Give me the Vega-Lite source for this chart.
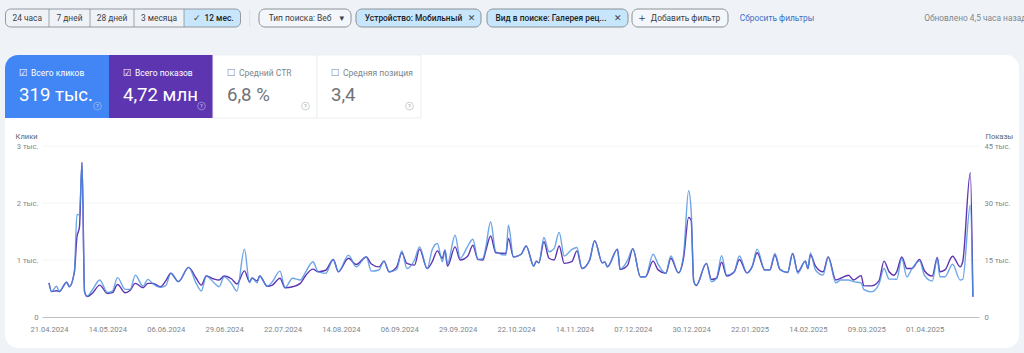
{
"$schema":"https://vega.github.io/schema/vega-lite/v6.json",
"width":937,"height":171,"autosize":"none",
"padding":{"left":42,"top":146,"right":45,"bottom":36},
"background":"#eff3f8",
"config":{"view":{"stroke":null},"font":"Roboto"},
"datasets":{
"tiles":[
{"tile":0,"end":1,"label":"Всего кликов","value":"319 тыс."},
{"tile":1,"end":2,"label":"Всего показов","value":"4,72 млн"},
{"tile":2,"end":3,"label":"Средний CTR","value":"6,8 %"},
{"tile":3,"end":4,"label":"Средняя позиция","value":"3,4"}],
"chips":[
{"label":"24 часа","from":0,"to":1,"at":0.5,"group":"period","state":"plain"},
{"label":"7 дней","from":1,"to":2,"at":1.5,"group":"period","state":"plain"},
{"label":"28 дней","from":2,"to":3,"at":2.5,"group":"period","state":"plain"},
{"label":"3 месяца","from":3,"to":4,"at":3.5,"group":"period","state":"plain"},
{"label":"12 мес.","from":4,"to":5,"at":4.62,"group":"period","state":"active"},
{"label":"Тип поиска: Веб","from":6,"to":7,"at":6.446,"group":"chip","state":"plain"},
{"label":"Устройство: Мобильный","from":8,"to":9,"at":8.46,"group":"chip","state":"active"},
{"label":"Вид в поиске: Галерея рец...","from":10,"to":11,"at":10.454,"group":"chip","state":"active"},
{"label":"Добавить фильтр","from":12,"to":13,"at":12.557,"group":"chip","state":"plain"},
{"label":"Сбросить фильтры","from":14,"to":15,"at":14.5,"group":"link","state":"plain"},
{"label":"Обновлено 4,5 часа назад","from":16,"to":17,"at":16.47,"group":"note","state":"plain"},
{"label":"✓","from":4,"to":4,"at":4.225,"group":"icon","state":"plain"},
{"label":"▾","from":6,"to":6,"at":6.9,"group":"icon","state":"plain"},
{"label":"✕","from":8,"to":8,"at":8.925,"group":"icon","state":"plain"},
{"label":"✕","from":10,"to":10,"at":10.927,"group":"icon","state":"plain"},
{"label":"+","from":12,"to":12,"at":12.104,"group":"icon","state":"plain"}],
"gridlines":[{"clicks":1000},{"clicks":2000},{"clicks":3000}],
"daily":[
{"date":"2024-04-21","clicks":600,"impressions":9000},
{"date":"2024-04-22","clicks":445,"impressions":6700},
{"date":"2024-04-24","clicks":540,"impressions":6900},
{"date":"2024-04-25","clicks":445,"impressions":6700},
{"date":"2024-04-28","clicks":610,"impressions":9150},
{"date":"2024-04-29","clicks":530,"impressions":7950},
{"date":"2024-05-01","clicks":790,"impressions":11850},
{"date":"2024-05-02","clicks":1800,"impressions":21000},
{"date":"2024-05-03","clicks":1790,"impressions":23700},
{"date":"2024-05-04","clicks":2710,"impressions":40650},
{"date":"2024-05-05","clicks":445,"impressions":6700},
{"date":"2024-05-06","clicks":360,"impressions":5400},
{"date":"2024-05-08","clicks":470,"impressions":6200},
{"date":"2024-05-11","clicks":650,"impressions":8400},
{"date":"2024-05-14","clicks":430,"impressions":6200},
{"date":"2024-05-16","clicks":455,"impressions":6400},
{"date":"2024-05-18","clicks":690,"impressions":8550},
{"date":"2024-05-21","clicks":485,"impressions":6400},
{"date":"2024-05-23","clicks":485,"impressions":7050},
{"date":"2024-05-25","clicks":735,"impressions":8850},
{"date":"2024-05-28","clicks":540,"impressions":7700},
{"date":"2024-05-30","clicks":660,"impressions":8850},
{"date":"2024-06-01","clicks":580,"impressions":8850},
{"date":"2024-06-04","clicks":520,"impressions":7950},
{"date":"2024-06-06","clicks":550,"impressions":9500},
{"date":"2024-06-08","clicks":765,"impressions":11500},
{"date":"2024-06-11","clicks":620,"impressions":9300},
{"date":"2024-06-15","clicks":870,"impressions":13050},
{"date":"2024-06-18","clicks":590,"impressions":10200},
{"date":"2024-06-20","clicks":455,"impressions":8400},
{"date":"2024-06-22","clicks":720,"impressions":10800},
{"date":"2024-06-25","clicks":600,"impressions":10000},
{"date":"2024-06-27","clicks":530,"impressions":9750},
{"date":"2024-06-29","clicks":705,"impressions":10800},
{"date":"2024-07-02","clicks":580,"impressions":10000},
{"date":"2024-07-04","clicks":455,"impressions":8700},
{"date":"2024-07-07","clicks":1190,"impressions":12150},
{"date":"2024-07-09","clicks":600,"impressions":9300},
{"date":"2024-07-10","clicks":690,"impressions":10200},
{"date":"2024-07-12","clicks":600,"impressions":9500},
{"date":"2024-07-13","clicks":720,"impressions":10800},
{"date":"2024-07-16","clicks":540,"impressions":8100},
{"date":"2024-07-18","clicks":620,"impressions":8400},
{"date":"2024-07-21","clicks":805,"impressions":10200},
{"date":"2024-07-23","clicks":515,"impressions":7700},
{"date":"2024-07-26","clicks":680,"impressions":7950},
{"date":"2024-07-29","clicks":650,"impressions":8850},
{"date":"2024-07-31","clicks":780,"impressions":10800},
{"date":"2024-08-03","clicks":970,"impressions":12600},
{"date":"2024-08-05","clicks":795,"impressions":11900},
{"date":"2024-08-08","clicks":765,"impressions":12300},
{"date":"2024-08-11","clicks":1010,"impressions":15150},
{"date":"2024-08-13","clicks":795,"impressions":11900},
{"date":"2024-08-17","clicks":1085,"impressions":15450},
{"date":"2024-08-20","clicks":880,"impressions":13800},
{"date":"2024-08-24","clicks":1055,"impressions":15800},
{"date":"2024-08-26","clicks":805,"impressions":13950},
{"date":"2024-08-29","clicks":825,"impressions":13200},
{"date":"2024-08-31","clicks":980,"impressions":14700},
{"date":"2024-09-02","clicks":795,"impressions":11900},
{"date":"2024-09-05","clicks":835,"impressions":13200},
{"date":"2024-09-07","clicks":1160,"impressions":16900},
{"date":"2024-09-09","clicks":850,"impressions":14100},
{"date":"2024-09-12","clicks":1000,"impressions":13650},
{"date":"2024-09-14","clicks":1230,"impressions":17850},
{"date":"2024-09-17","clicks":850,"impressions":12750},
{"date":"2024-09-19","clicks":1185,"impressions":14550},
{"date":"2024-09-21","clicks":1290,"impressions":17400},
{"date":"2024-09-23","clicks":970,"impressions":15450},
{"date":"2024-09-24","clicks":1175,"impressions":17600},
{"date":"2024-09-25","clicks":940,"impressions":13400},
{"date":"2024-09-28","clicks":1435,"impressions":18450},
{"date":"2024-09-30","clicks":1030,"impressions":15000},
{"date":"2024-10-03","clicks":1245,"impressions":16050},
{"date":"2024-10-05","clicks":1365,"impressions":18900},
{"date":"2024-10-07","clicks":1010,"impressions":15150},
{"date":"2024-10-09","clicks":1030,"impressions":15000},
{"date":"2024-10-10","clicks":1200,"impressions":17200},
{"date":"2024-10-12","clicks":1670,"impressions":21300},
{"date":"2024-10-14","clicks":1145,"impressions":16900},
{"date":"2024-10-18","clicks":1085,"impressions":16700},
{"date":"2024-10-19","clicks":1610,"impressions":20700},
{"date":"2024-10-21","clicks":1055,"impressions":15800},
{"date":"2024-10-24","clicks":1100,"impressions":16500},
{"date":"2024-10-26","clicks":1245,"impressions":18700},
{"date":"2024-10-29","clicks":895,"impressions":13400},
{"date":"2024-10-30","clicks":980,"impressions":14700},
{"date":"2024-10-31","clicks":950,"impressions":14250},
{"date":"2024-11-02","clicks":1395,"impressions":19800},
{"date":"2024-11-04","clicks":1145,"impressions":15450},
{"date":"2024-11-06","clicks":1200,"impressions":15000},
{"date":"2024-11-08","clicks":1485,"impressions":18700},
{"date":"2024-11-10","clicks":1070,"impressions":14100},
{"date":"2024-11-13","clicks":1185,"impressions":14550},
{"date":"2024-11-15","clicks":1220,"impressions":17400},
{"date":"2024-11-17","clicks":850,"impressions":12750},
{"date":"2024-11-20","clicks":1000,"impressions":15000},
{"date":"2024-11-22","clicks":1340,"impressions":20100},
{"date":"2024-11-25","clicks":950,"impressions":14250},
{"date":"2024-11-26","clicks":965,"impressions":14500},
{"date":"2024-11-27","clicks":880,"impressions":13200},
{"date":"2024-12-01","clicks":1190,"impressions":17850},
{"date":"2024-12-02","clicks":835,"impressions":12500},
{"date":"2024-12-05","clicks":1000,"impressions":13650},
{"date":"2024-12-07","clicks":1200,"impressions":18000},
{"date":"2024-12-10","clicks":705,"impressions":10600},
{"date":"2024-12-12","clicks":705,"impressions":10600},
{"date":"2024-12-15","clicks":1100,"impressions":14700},
{"date":"2024-12-17","clicks":925,"impressions":12400},
{"date":"2024-12-20","clicks":765,"impressions":11500},
{"date":"2024-12-22","clicks":1070,"impressions":15450},
{"date":"2024-12-25","clicks":775,"impressions":11600},
{"date":"2024-12-27","clicks":1085,"impressions":15450},
{"date":"2024-12-29","clicks":2215,"impressions":26200},
{"date":"2024-12-30","clicks":1875,"impressions":25500},
{"date":"2024-12-31","clicks":635,"impressions":9500},
{"date":"2025-01-01","clicks":555,"impressions":8300},
{"date":"2025-01-05","clicks":940,"impressions":14100},
{"date":"2025-01-07","clicks":620,"impressions":9900},
{"date":"2025-01-09","clicks":680,"impressions":10200},
{"date":"2025-01-11","clicks":1075,"impressions":14400},
{"date":"2025-01-13","clicks":735,"impressions":10800},
{"date":"2025-01-16","clicks":795,"impressions":11900},
{"date":"2025-01-18","clicks":1070,"impressions":15150},
{"date":"2025-01-21","clicks":775,"impressions":11600},
{"date":"2025-01-23","clicks":880,"impressions":13200},
{"date":"2025-01-25","clicks":1190,"impressions":16900},
{"date":"2025-01-28","clicks":825,"impressions":12400},
{"date":"2025-01-30","clicks":825,"impressions":12400},
{"date":"2025-02-01","clicks":1115,"impressions":16300},
{"date":"2025-02-03","clicks":835,"impressions":12500},
{"date":"2025-02-06","clicks":780,"impressions":11700},
{"date":"2025-02-08","clicks":1115,"impressions":16700},
{"date":"2025-02-10","clicks":765,"impressions":11900},
{"date":"2025-02-13","clicks":980,"impressions":14700},
{"date":"2025-02-14","clicks":850,"impressions":12750},
{"date":"2025-02-15","clicks":1125,"impressions":16300},
{"date":"2025-02-17","clicks":825,"impressions":13400},
{"date":"2025-02-20","clicks":735,"impressions":11900},
{"date":"2025-02-22","clicks":1055,"impressions":15800},
{"date":"2025-02-25","clicks":600,"impressions":9750},
{"date":"2025-02-27","clicks":650,"impressions":10200},
{"date":"2025-03-02","clicks":650,"impressions":11000},
{"date":"2025-03-04","clicks":620,"impressions":9750},
{"date":"2025-03-07","clicks":600,"impressions":10900},
{"date":"2025-03-08","clicks":485,"impressions":8250},
{"date":"2025-03-11","clicks":440,"impressions":8200},
{"date":"2025-03-14","clicks":580,"impressions":9500},
{"date":"2025-03-16","clicks":850,"impressions":14700},
{"date":"2025-03-18","clicks":665,"impressions":11900},
{"date":"2025-03-20","clicks":665,"impressions":11000},
{"date":"2025-03-21","clicks":660,"impressions":11900},
{"date":"2025-03-23","clicks":1030,"impressions":15800},
{"date":"2025-03-25","clicks":705,"impressions":12750},
{"date":"2025-03-27","clicks":850,"impressions":12750},
{"date":"2025-03-30","clicks":985,"impressions":15150},
{"date":"2025-04-01","clicks":725,"impressions":12100},
{"date":"2025-04-04","clicks":630,"impressions":10800},
{"date":"2025-04-06","clicks":1030,"impressions":15700},
{"date":"2025-04-07","clicks":705,"impressions":11900},
{"date":"2025-04-09","clicks":705,"impressions":12400},
{"date":"2025-04-12","clicks":925,"impressions":16000},
{"date":"2025-04-15","clicks":650,"impressions":13200},
{"date":"2025-04-16","clicks":660,"impressions":14550},
{"date":"2025-04-19","clicks":1960,"impressions":38000},
{"date":"2025-04-20","clicks":355,"impressions":5300}]
},
"resolve":{"scale":{"x":"independent","y":"independent"}},
"layer":[
{"data":{"values":[{"panel":"card"}]},
 "mark":{"type":"rect","fill":"#ffffff","cornerRadius":13},
 "encoding":{
  "x":{"datum":0,"type":"quantitative","scale":{"domain":[0,1],"range":[-37,977],"nice":false,"zero":false},"axis":null},
  "x2":{"datum":1},
  "y":{"datum":0,"type":"quantitative","scale":{"domain":[0,1],"range":[-91,202],"nice":false,"zero":false},"axis":null},
  "y2":{"datum":1}}},
{"data":{"name":"tiles"},
 "encoding":{
  "x":{"field":"tile","type":"quantitative","scale":{"domain":[0,4],"range":[-37,379],"nice":false,"zero":false},"axis":null},
  "y":{"datum":0,"type":"quantitative","scale":{"domain":[0,1],"range":[-91,-28],"nice":false,"zero":false},"axis":null}},
 "layer":[
  {"transform":[{"filter":"datum.tile==0"}],"mark":{"type":"rect","fill":"#4285f4","cornerRadiusTopLeft":13},"encoding":{"x2":{"field":"end"},"y2":{"datum":1}}},
  {"transform":[{"filter":"datum.tile==1"}],"mark":{"type":"rect","fill":"#5e35b1"},"encoding":{"x2":{"field":"end"},"y2":{"datum":1}}},
  {"transform":[{"filter":"datum.tile>1"}],"mark":{"type":"rect","fill":"#ffffff","stroke":"#eceef1","strokeWidth":1},"encoding":{"x2":{"field":"end"},"y2":{"datum":1}}},
  {"mark":{"type":"text","align":"left","baseline":"middle","dx":26,"fontSize":8.5},
   "encoding":{"y":{"datum":0.285},"text":{"field":"label"},"color":{"condition":{"test":"datum.tile<2","value":"#ffffff"},"value":"#80868b"}}},
  {"mark":{"type":"text","align":"center","baseline":"middle","dx":18,"fontSize":9.5,"font":"DejaVu Sans"},
   "encoding":{"y":{"datum":0.285},"text":{"condition":{"test":"datum.tile<2","value":"☑"},"value":"☐"},"color":{"condition":{"test":"datum.tile<2","value":"#ffffff"},"value":"#80868b"}}},
  {"mark":{"type":"text","align":"left","baseline":"alphabetic","dx":14,"fontSize":18.6},
   "encoding":{"y":{"datum":0.73},"text":{"field":"value"},"color":{"condition":{"test":"datum.tile<2","value":"#ffffff"},"value":"#6f7377"}}},
  {"mark":{"type":"point","shape":"circle","size":60,"filled":false,"strokeWidth":0.7,"xOffset":92.5},
   "encoding":{"y":{"datum":0.81},"color":{"condition":{"test":"datum.tile<2","value":"#c9d6f2"},"value":"#9aa0a6"}}},
  {"mark":{"type":"text","align":"center","baseline":"middle","dx":92.5,"fontSize":6},
   "encoding":{"y":{"datum":0.81},"text":{"value":"?"},"color":{"condition":{"test":"datum.tile<2","value":"#c9d6f2"},"value":"#9aa0a6"}}}
 ]},
{"data":{"name":"chips"},
 "encoding":{
  "x":{"field":"from","type":"quantitative","scale":{"domain":[0,1,2,3,4,5,6,7,8,9,10,11,12,13,14,15,16,17],"range":[-36.5,7,48,92,142,198.5,217,309,314,439,445,586,590,686,698,772,882,991],"nice":false,"zero":false},"axis":null},
  "y":{"datum":0,"type":"quantitative","scale":{"domain":[0,1],"range":[-137,-119],"nice":false,"zero":false},"axis":null}},
 "layer":[
  {"transform":[{"filter":"datum.group=='period' && datum.state=='active'"}],
   "mark":{"type":"rect","fill":"#c7e6fb","cornerRadiusTopRight":5,"cornerRadiusBottomRight":5},
   "encoding":{"x2":{"field":"to"},"y2":{"datum":1}}},
  {"transform":[{"filter":"datum.group=='period' && datum.from==0"}],
   "mark":{"type":"rect","fill":"transparent","stroke":"#8a9096","strokeWidth":0.9,"cornerRadius":5},
   "encoding":{"x2":{"datum":5},"y2":{"datum":1}}},
  {"transform":[{"filter":"datum.group=='period' && datum.from>0"}],
   "mark":{"type":"rule","stroke":"#8a9096","strokeWidth":0.8},
   "encoding":{"y2":{"datum":1}}},
  {"transform":[{"filter":"datum.group=='period' && datum.from==0"}],
   "mark":{"type":"rule","stroke":"#dde1e6","strokeWidth":1},
   "encoding":{"x":{"datum":5.5},"y2":{"datum":1}}},
  {"transform":[{"filter":"datum.group=='chip'"}],
   "mark":{"type":"rect","stroke":"#80868b","strokeWidth":0.9,"cornerRadius":6},
   "encoding":{"x2":{"field":"to"},"y2":{"datum":1},"fill":{"condition":{"test":"datum.state=='active'","value":"#c7e6fb"},"value":"#f3f6fa"}}},
  {"transform":[{"filter":"datum.group!='icon' && datum.state=='plain'"}],
   "mark":{"type":"text","align":"center","baseline":"middle","fontSize":8.4},
   "encoding":{"x":{"field":"at"},"y":{"datum":0.5},"text":{"field":"label"},
    "color":{"condition":[{"test":"datum.group=='link'","value":"#3b6fc4"},{"test":"datum.group=='note'","value":"#80868b"}],"value":"#3c4043"}}},
  {"transform":[{"filter":"datum.group!='icon' && datum.state=='active'"}],
   "mark":{"type":"text","align":"center","baseline":"middle","fontSize":8.4,"fontWeight":500,"color":"#202124"},
   "encoding":{"x":{"field":"at"},"y":{"datum":0.5},"text":{"field":"label"}}},
  {"transform":[{"filter":"datum.group=='icon'"}],
   "mark":{"type":"text","align":"center","baseline":"middle","fontSize":9,"font":"DejaVu Sans","color":"#3c4043"},
   "encoding":{"x":{"field":"at"},"y":{"datum":0.5},"text":{"field":"label"}}}
 ]},
{"data":{"name":"gridlines"},
 "mark":{"type":"rule","stroke":"#f3f4f6","strokeWidth":1},
 "encoding":{"y":{"field":"clicks","type":"quantitative","scale":{"domain":[0,3000],"nice":false,"zero":true},"axis":null}}},
{"data":{"name":"daily"},
 "encoding":{
  "x":{"field":"date","type":"temporal",
   "scale":{"type":"utc","domain":["2024-04-18T05:45:00Z","2025-04-22T10:00:00Z"],"nice":false},
   "axis":{"values":["2024-04-21","2024-05-14","2024-06-06","2024-06-29","2024-07-22","2024-08-14","2024-09-06","2024-09-29","2024-10-22","2024-11-14","2024-12-07","2024-12-30","2025-01-22","2025-02-14","2025-03-09","2025-04-01"],
    "labelExpr":"utcFormat(datum.value,'%d.%m.%Y')","title":null,"grid":false,"ticks":false,"domain":true,"domainColor":"#bdc1c6","domainWidth":1,
    "labelColor":"#80868b","labelFontSize":7.6,"labelPadding":8,"labelOverlap":false,"labelFlush":false,"zindex":1}}},
 "resolve":{"scale":{"y":"independent"}},
 "layer":[
  {"mark":{"type":"line","stroke":"#5e35b1","strokeWidth":1.4,"interpolate":"monotone","clip":false},
   "encoding":{"y":{"field":"impressions","type":"quantitative",
    "scale":{"domain":[0,45000],"nice":false,"zero":true},
    "axis":{"orient":"right","values":[0,15000,30000,45000],"labelExpr":"datum.value==0?'0':(datum.value/1000)+' тыс.'",
     "title":"Показы","titleAngle":0,"titleX":6,"titleY":-10,"titleAlign":"left","titleBaseline":"middle","titleFontSize":7.6,"titleFontWeight":"normal","titleColor":"#5f6368",
     "grid":false,"ticks":false,"domain":false,"labelColor":"#80868b","labelFontSize":7.6,"labelPadding":5,"zindex":1}}}},
  {"mark":{"type":"line","stroke":"#4a8fe0","strokeWidth":1.4,"opacity":0.8,"interpolate":"monotone","clip":false},
   "encoding":{"y":{"field":"clicks","type":"quantitative",
    "scale":{"domain":[0,3000],"nice":false,"zero":true},
    "axis":{"orient":"left","values":[0,1000,2000,3000],"labelExpr":"datum.value==0?'0':(datum.value/1000)+' тыс.'",
     "title":"Клики","titleAngle":0,"titleX":-27,"titleY":-10,"titleAlign":"left","titleBaseline":"middle","titleFontSize":7.6,"titleFontWeight":"normal","titleColor":"#5f6368",
     "grid":false,"ticks":false,"domain":false,"labelColor":"#80868b","labelFontSize":7.6,"labelPadding":4,"zindex":1}}}}
 ]}
]
}
